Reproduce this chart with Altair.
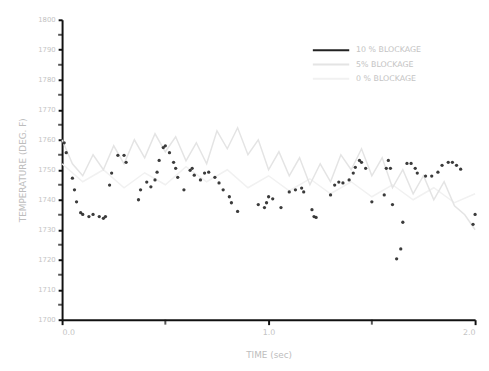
import altair as alt
import pandas as pd

# 10% blockage
t10 = [0.01, 0.02, 0.05, 0.06, 0.07, 0.09, 0.10, 0.13, 0.15, 0.18, 0.20, 0.21, 0.23, 0.24, 0.27, 0.30,
       0.31, 0.37, 0.38, 0.41, 0.43, 0.45, 0.46, 0.47, 0.49, 0.50, 0.52, 0.54, 0.55, 0.56, 0.59, 0.62,
       0.63, 0.64, 0.67, 0.69, 0.71, 0.74, 0.76, 0.78, 0.81, 0.82, 0.85, 0.95, 0.98, 0.99, 1.00, 1.02,
       1.06, 1.10, 1.13, 1.16, 1.17, 1.21, 1.22, 1.23, 1.30, 1.32, 1.34, 1.36, 1.39, 1.41, 1.42, 1.44,
       1.45, 1.47, 1.50, 1.56, 1.57, 1.58, 1.59, 1.60, 1.62, 1.64, 1.65, 1.67, 1.69, 1.71, 1.72, 1.76,
       1.79, 1.82, 1.84, 1.87, 1.89, 1.91, 1.93, 1.99, 2.0]
v10 = [1759, 1755.7, 1747.2, 1743.3, 1739.3, 1735.7, 1735.1, 1734.4, 1735.1, 1734.4, 1733.8, 1734.4,
       1744.9, 1748.9, 1754.8, 1754.8, 1752.5, 1740, 1743.3, 1745.9, 1744.3, 1746.6, 1749.2, 1753.1,
       1757.4, 1758.0, 1755.7, 1752.5, 1750.5, 1747.5, 1743.3, 1749.8, 1750.5, 1748.2, 1746.6, 1748.9,
       1749.2, 1747.5, 1745.6, 1743.3, 1741.0, 1739.0, 1736.1, 1738.4, 1737.4, 1739.0, 1741.0, 1740.3,
       1737.4, 1742.6, 1743.3, 1743.9, 1742.6, 1736.7, 1734.4, 1734.1, 1741.6, 1744.9, 1745.9, 1745.6,
       1746.6, 1748.9, 1750.8, 1753.1, 1752.5, 1750.5, 1739.3, 1741.6, 1750.5, 1753.1, 1750.5, 1738.4,
       1720.3, 1723.6, 1732.5, 1752.1, 1752.1, 1750.5, 1748.9, 1747.9, 1747.9, 1749.2, 1751.5, 1752.5,
       1752.5, 1751.5, 1750.2, 1731.8, 1735.1]

# 5% blockage (faint grey trace, estimated)
t5 = [0.0, 0.05, 0.1, 0.15, 0.2, 0.25, 0.3, 0.35, 0.4, 0.45, 0.5, 0.55, 0.6, 0.65, 0.7, 0.75, 0.8,
      0.85, 0.9, 0.95, 1.0, 1.05, 1.1, 1.15, 1.2, 1.25, 1.3, 1.35, 1.4, 1.45, 1.5, 1.55, 1.6, 1.65,
      1.7, 1.75, 1.8, 1.85, 1.9, 1.95, 2.0]
v5 = [1760, 1752, 1748, 1755, 1750, 1758, 1752, 1760, 1754, 1762, 1756, 1761, 1753, 1759, 1752, 1763,
      1757, 1764, 1755, 1760, 1750, 1756, 1748, 1754, 1745, 1752, 1746, 1755, 1750, 1757, 1748, 1754,
      1744, 1750, 1742, 1748, 1740, 1746, 1738, 1735, 1730]

# 0% blockage (very faint trace, estimated)
t0 = [0.0, 0.1, 0.2, 0.3, 0.4, 0.5, 0.6, 0.7, 0.8, 0.9, 1.0, 1.1, 1.2, 1.3, 1.4, 1.5, 1.6, 1.7,
      1.8, 1.9, 2.0]
v0 = [1752, 1746, 1750, 1744, 1749, 1745, 1751, 1746, 1750, 1744, 1748, 1743, 1747, 1742, 1746,
      1741, 1745, 1740, 1744, 1739, 1742]

legend_labels = ["10 % BLOCKAGE", "5% BLOCKAGE", "0 % BLOCKAGE"]
legend_colors = ["#222222", "#e4e4e4", "#f1f1f1"]

x_ticks = [0, 1.0, 2.0]
x_minor = [0.5, 1.5]
y_ticks = [1700 + 10 * i for i in range(11)]
y_minor = [1705 + 10 * i for i in range(10)]

d10 = pd.DataFrame({"t": t10, "v": v10})
d5 = pd.DataFrame({"t": t5, "v": v5})
d0 = pd.DataFrame({"t": t0, "v": v0})

xs = alt.Scale(domain=[0, 2], nice=False)
ys = alt.Scale(domain=[1700, 1800], nice=False)

x_axis = alt.Axis(values=x_ticks, title="TIME (sec)", format=".1f", labelOverlap=False,
                  domainColor="#111", domainWidth=2, tickColor="#111", tickWidth=2, tickSize=5,
                  labelColor="#c4c4c4", labelFontSize=8, titleColor="#bdbdbd", titleFontSize=9,
                  titleFontWeight="normal", grid=False, titlePadding=14, labelPadding=4)
y_axis = alt.Axis(values=y_ticks, title="TEMPERATURE (DEG. F)", format="d", labelOverlap=False,
                  domainColor="#111", domainWidth=2, tickColor="#111", tickWidth=2, tickSize=4,
                  labelColor="#c4c4c4", labelFontSize=7, titleColor="#bdbdbd", titleFontSize=9,
                  titleFontWeight="normal", grid=False, titlePadding=10, labelPadding=3)


def X(field):
    return alt.X(field, type="quantitative", scale=xs, axis=x_axis)


def Y(field):
    return alt.Y(field, type="quantitative", scale=ys, axis=y_axis)


base0 = alt.Chart(d0).mark_line(color=legend_colors[2], strokeWidth=1.5).encode(x=X("t"), y=Y("v"))
line5 = alt.Chart(d5).mark_line(color=legend_colors[1], strokeWidth=1.5).encode(x=X("t"), y=Y("v"))
pts10 = alt.Chart(d10).mark_point(filled=True, size=11, color="#262626", opacity=0.9).encode(
    x=X("t"), y=Y("v"))

ymin_ticks = alt.Chart(pd.DataFrame({"v": y_minor})).mark_tick(
    color="#111", thickness=2, size=4, orient="horizontal").encode(y=Y("v"), x=alt.value(-2))
xmin_ticks = alt.Chart(pd.DataFrame({"t": x_minor})).mark_tick(
    color="#111", thickness=2, size=5, orient="vertical").encode(x=X("t"), y=alt.value(307.5))

leg = pd.DataFrame({"label": legend_labels, "color": legend_colors, "row": [0, 1, 2]})
leg_layers = []
for i in range(3):
    yy = 31 + i * 14.5
    leg_layers.append(
        alt.Chart(leg).transform_filter(f"datum.row == {i}").mark_rule(strokeWidth=2).encode(
            x=alt.value(255), x2=alt.value(292), y=alt.value(yy),
            color=alt.Color("color:N", scale=None)))
    leg_layers.append(
        alt.Chart(leg).transform_filter(f"datum.row == {i}").mark_text(
            align="left", baseline="middle", fontSize=8, color="#c4c4c4").encode(
            x=alt.value(299), y=alt.value(yy), text="label:N"))

chart = alt.layer(base0, line5, pts10, ymin_ticks, xmin_ticks, *leg_layers).properties(
    width=420, height=305,
    autosize=alt.AutoSizeParams(type="none"),
    padding={"left": 55, "top": 9, "right": 6, "bottom": 40},
).configure(
    font="DejaVu Sans",
    view=alt.ViewConfig(stroke=None),
)

chart.save("out.html", embed_options={"renderer": "svg", "actions": False})
